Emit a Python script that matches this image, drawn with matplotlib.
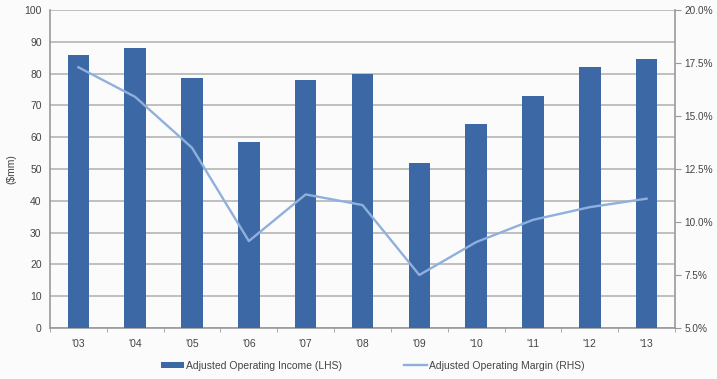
import matplotlib
matplotlib.use("Agg")
import matplotlib.pyplot as plt
from matplotlib.ticker import FuncFormatter, FixedLocator

years = ["'03", "'04", "'05", "'06", "'07", "'08", "'09", "'10", "'11", "'12", "'13"]
income = [86, 88, 78.5, 58.5, 78, 80, 52, 64, 73, 82, 84.5]
margin = [17.3, 15.9, 13.5, 9.1, 11.3, 10.8, 7.5, 9.05, 10.1, 10.7, 11.1]

plt.rcParams['font.family'] = ['Liberation Sans', 'DejaVu Sans']

fig = plt.figure(figsize=(7.17, 3.79), dpi=100)
fig.patch.set_facecolor('#fbfbfb')
ax = fig.add_axes([0.0697, 0.1346, 0.8717, 0.839])
ax.set_facecolor('#fbfbfb')
x = list(range(len(years)))
bars = ax.bar(x, income, width=0.38, color='#3c69a6', zorder=3,
              label='Adjusted Operating Income (LHS)')
ax.set_xlim(-0.5, len(years) - 0.5)
ax.set_ylim(0, 100)
ax.set_yticks(range(0, 101, 10))
ax.yaxis.grid(True, color='#b5b5b5', linewidth=1.2, zorder=0)
ax.set_xticks(x)
ax.set_xticklabels(years)
ax.xaxis.set_minor_locator(FixedLocator([i - 0.5 for i in range(len(years) + 1)]))
ax.tick_params(axis='x', which='major', length=0, pad=8, labelsize=7.5, colors='#444444')
ax.tick_params(axis='x', which='minor', length=3, color='#999999', direction='out')
ax.tick_params(axis='y', length=0, labelsize=7.5, colors='#444444', pad=6)
for s in ['top', 'right']:
    ax.spines[s].set_visible(False)
ax.spines['left'].set_color('#999999')
ax.spines['bottom'].set_color('#999999')
ax.spines['left'].set_linewidth(1.2)
ax.spines['bottom'].set_linewidth(1.2)
ax.set_ylabel('($mm)', fontsize=7.5, color='#444444', labelpad=6)

ax2 = ax.twinx()
line, = ax2.plot(x, margin, color='#8fb0dd', linewidth=1.7, zorder=4,
                 label='Adjusted Operating Margin (RHS)')
ax2.set_ylim(5, 20)
ax2.set_yticks([5, 7.5, 10, 12.5, 15, 17.5, 20])
ax2.yaxis.set_major_formatter(FuncFormatter(lambda v, p: f"{v:.1f}%"))
ax2.tick_params(axis='y', length=4, color='#999999', direction='out', labelsize=7.2,
                colors='#444444', pad=3)
ax2.tick_params(axis='y', color='#999999')
for s in ['top', 'left', 'bottom']:
    ax2.spines[s].set_visible(False)
ax2.spines['right'].set_color('#999999')
ax2.spines['right'].set_linewidth(1.2)

fig.legend([bars, line], [bars.get_label(), line.get_label()], loc='center',
           bbox_to_anchor=(0.52, 0.035), ncol=2, frameon=False, fontsize=7.5,
           handlelength=2.2, handleheight=0.6, columnspacing=6, handletextpad=0.2,
           labelcolor='#444444')

fig.savefig('out.png', dpi=100, facecolor=fig.get_facecolor())
